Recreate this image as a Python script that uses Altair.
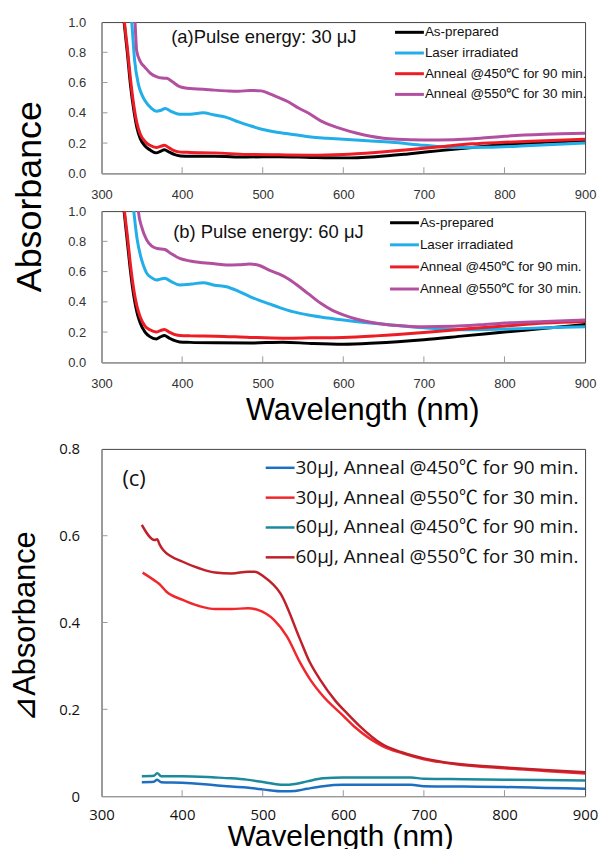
import altair as alt
import pandas as pd

# ---------------- data ----------------
names_ab = ["As-prepared", "Laser irradiated", "Anneal @450℃ for 90 min.", "Anneal @550℃ for 30 min."]
colors_ab = ["#000000", "#22AEE8", "#EE1C25", "#B2509F"]

# panel (a) 30 uJ
a_black_w = [320, 328, 332, 336, 340, 344, 348, 354, 360, 368, 373, 378, 384, 390, 398, 410, 440, 480, 520, 560, 600, 640, 680, 720, 760, 800, 850, 900]
a_black_A = [1.5, 1.0, 0.80, 0.58, 0.42, 0.30, 0.23, 0.18, 0.155, 0.135, 0.145, 0.155, 0.14, 0.125, 0.115, 0.112, 0.112, 0.108, 0.11, 0.105, 0.102, 0.11, 0.128, 0.15, 0.17, 0.19, 0.205, 0.215]
a_red_w = a_black_w
a_red_A = [1.5, 1.02, 0.83, 0.62, 0.45, 0.33, 0.26, 0.21, 0.185, 0.17, 0.178, 0.185, 0.168, 0.15, 0.14, 0.138, 0.135, 0.125, 0.122, 0.12, 0.125, 0.138, 0.155, 0.175, 0.195, 0.205, 0.215, 0.225]
a_blue_w = [330, 337.5, 341, 345.7, 350, 354, 362, 368, 373, 379, 386, 397, 410, 426, 440, 455, 470, 484, 500, 520, 540, 560, 580, 600, 630, 660, 700, 740, 780, 820, 860, 900]
a_blue_A = [1.4, 1.0, 0.75, 0.59, 0.52, 0.48, 0.43, 0.41, 0.415, 0.428, 0.41, 0.39, 0.39, 0.40, 0.385, 0.37, 0.34, 0.315, 0.29, 0.27, 0.255, 0.24, 0.232, 0.225, 0.215, 0.205, 0.185, 0.17, 0.172, 0.18, 0.19, 0.2]
a_mag_w = [335, 341.6, 343.6, 348, 354, 361, 368, 375, 381, 388, 397, 410, 426, 440, 455, 470, 484, 498, 508, 520, 531, 545, 556, 572, 586, 600, 617, 634, 650, 667, 700, 737, 770, 800, 850, 900]
a_mag_A = [1.5, 1.0, 0.81, 0.74, 0.70, 0.66, 0.64, 0.63, 0.628, 0.605, 0.573, 0.56, 0.556, 0.55, 0.545, 0.542, 0.548, 0.545, 0.527, 0.50, 0.475, 0.43, 0.40, 0.347, 0.315, 0.29, 0.265, 0.245, 0.232, 0.225, 0.22, 0.222, 0.232, 0.245, 0.258, 0.265]

# panel (b) 60 uJ
b_black_w = [320, 328, 332, 336, 340, 344, 348, 354, 360, 368, 373, 378, 384, 390, 397, 410, 442, 484, 525, 560, 600, 640, 700, 750, 800, 850, 900]
b_black_A = [1.5, 1.0, 0.80, 0.60, 0.44, 0.33, 0.26, 0.2, 0.17, 0.155, 0.168, 0.177, 0.16, 0.145, 0.135, 0.132, 0.129, 0.128, 0.133, 0.125, 0.12, 0.128, 0.15, 0.175, 0.2, 0.225, 0.25]
b_red_w = b_black_w
b_red_A = [1.5, 1.02, 0.84, 0.64, 0.48, 0.37, 0.30, 0.24, 0.215, 0.2, 0.21, 0.217, 0.2, 0.185, 0.178, 0.175, 0.173, 0.165, 0.16, 0.162, 0.165, 0.175, 0.197, 0.22, 0.24, 0.26, 0.27]
b_blue_w = [332, 340, 344, 348.6, 352, 356, 362, 368, 373, 378.6, 386, 397, 412, 426, 440, 455, 470, 484, 496, 508, 522, 537, 555, 572, 600, 630, 654, 700, 750, 800, 850, 900]
b_blue_A = [1.4, 1.0, 0.82, 0.70, 0.64, 0.59, 0.56, 0.545, 0.55, 0.556, 0.535, 0.512, 0.518, 0.527, 0.51, 0.5, 0.47, 0.435, 0.41, 0.387, 0.36, 0.335, 0.315, 0.3, 0.28, 0.262, 0.25, 0.228, 0.215, 0.22, 0.228, 0.235]
b_mag_w = [340, 345.7, 349.8, 356, 362, 369, 378.6, 386, 397, 410, 426, 440, 455, 470, 484, 496, 508, 520, 531, 543, 556, 572, 586, 600, 617, 634, 650, 667, 700, 737, 770, 800, 850, 900]
b_mag_A = [1.5, 1.0, 0.895, 0.81, 0.77, 0.753, 0.746, 0.72, 0.687, 0.67, 0.659, 0.652, 0.643, 0.645, 0.65, 0.64, 0.61, 0.585, 0.555, 0.51, 0.456, 0.39, 0.345, 0.314, 0.285, 0.265, 0.252, 0.243, 0.235, 0.238, 0.248, 0.26, 0.27, 0.28]

# panel (c) difference spectra
names_c = ["30μJ, Anneal @450℃ for 90 min.", "30μJ, Anneal @550℃ for 30 min.",
           "60μJ, Anneal @450℃ for 90 min.", "60μJ, Anneal @550℃ for 30 min."]
colors_c = ["#1F6FC0", "#F0282D", "#1B8A9C", "#C0202A"]
c_blue_w = [350, 365, 369, 374, 400, 441, 461, 480, 502, 526, 540, 555, 575, 600, 650, 684, 700, 750, 800, 850, 900]
c_blue_A = [0.032, 0.033, 0.038, 0.032, 0.031, 0.025, 0.022, 0.02, 0.015, 0.011, 0.012, 0.017, 0.023, 0.026, 0.026, 0.026, 0.023, 0.022, 0.021, 0.019, 0.017]
c_teal_w = c_blue_w
c_teal_A = [0.046, 0.047, 0.053, 0.046, 0.046, 0.043, 0.041, 0.038, 0.032, 0.026, 0.028, 0.034, 0.041, 0.043, 0.043, 0.043, 0.04, 0.039, 0.038, 0.037, 0.036]
c_red_w = [351, 368, 371, 380.6, 400.8, 421, 441, 461.5, 481.8, 494, 514, 530, 546.6, 558.8, 575, 600, 615, 648, 672.6, 700, 737.5, 800, 850, 900]
c_red_A = [0.515, 0.494, 0.49, 0.471, 0.452, 0.438, 0.431, 0.431, 0.433, 0.429, 0.406, 0.368, 0.307, 0.269, 0.23, 0.185, 0.158, 0.116, 0.099, 0.085, 0.074, 0.064, 0.058, 0.052]
c_dred_w = [350, 366, 369, 372, 376.5, 400.8, 421, 441, 461.5, 481.8, 490, 502, 522, 546.6, 558, 571, 590, 605, 620, 648, 672.6, 700, 737.5, 800, 850, 900]
c_dred_A = [0.625, 0.59, 0.592, 0.58, 0.567, 0.54, 0.525, 0.515, 0.513, 0.517, 0.517, 0.505, 0.467, 0.36, 0.31, 0.269, 0.22, 0.19, 0.162, 0.12, 0.101, 0.087, 0.075, 0.066, 0.06, 0.055]

titles = ["(a)Pulse energy: 30 μJ", "(b) Pulse energy: 60 μJ", "(c)"]
x_ticks = [300, 400, 500, 600, 700, 800, 900]
y_ticks_ab = [0.0, 0.2, 0.4, 0.6, 0.8, 1.0]
y_ticks_c = [0.0, 0.2, 0.4, 0.6, 0.8]


def long_df(pairs, names):
    rows = []
    for (ws, As), n in zip(pairs, names):
        for w, A in zip(ws, As):
            rows.append({"w": w, "A": A, "s": n})
    return pd.DataFrame(rows)


df_a = long_df([(a_black_w, a_black_A), (a_blue_w, a_blue_A), (a_red_w, a_red_A), (a_mag_w, a_mag_A)],
               [names_ab[0], names_ab[1], names_ab[2], names_ab[3]])
df_b = long_df([(b_black_w, b_black_A), (b_blue_w, b_blue_A), (b_red_w, b_red_A), (b_mag_w, b_mag_A)],
               [names_ab[0], names_ab[1], names_ab[2], names_ab[3]])
df_c = long_df([(c_blue_w, c_blue_A), (c_teal_w, c_teal_A), (c_red_w, c_red_A), (c_dred_w, c_dred_A)],
               [names_c[0], names_c[2], names_c[1], names_c[3]])

W = 486
HAB = 152
HC = 349
FA = "Liberation Sans"
FC = "Open Sans, 'Noto Sans CJK JP'"
AX = "#999999"


def panel(df, names, colors, title, tx, ty, H, ydom, yticks, ylab_expr, xtitle, ytitle,
          ytitle_x, ytitle_y, xtitle_x, xtitle_y, xtitle_size, lab_font, lab_size, lab_color,
          ylab_pad, xlab_pad, leg_x, leg_y0, leg_dy, leg_font, leg_size, title_font, title_size, sw):
    cs = alt.Scale(domain=names, range=colors)
    xs = alt.Scale(domain=[300, 900], nice=False, zero=False)
    ys = alt.Scale(domain=ydom, nice=False)
    xax = alt.Axis(values=x_ticks, ticks=False, grid=False, domainColor=AX, domainWidth=1.5,
                   labelFont=lab_font, labelFontSize=lab_size, labelColor=lab_color,
                   labelPadding=xlab_pad, labelFlush=False, title=xtitle, titleFont=FA,
                   titleFontSize=xtitle_size, titleFontWeight="normal", titleColor="#000",
                   titleX=xtitle_x, titleY=xtitle_y, titleBaseline="alphabetic")
    yax = alt.Axis(values=yticks, ticks=False, grid=False, domainColor=AX, domainWidth=1.5,
                   labelFont=lab_font, labelFontSize=lab_size, labelColor=lab_color,
                   labelPadding=ylab_pad, labelExpr=ylab_expr, labelFlush=False,
                   title=ytitle, titleFont=FA, titleFontSize=36 if ytitle == "Absorbance" else 31,
                   titleFontWeight="normal", titleColor="#000", titleX=ytitle_x, titleY=ytitle_y,
                   titleBaseline="middle", titleAngle=270)
    xenc = alt.X("w:Q", scale=xs, axis=xax)
    yenc = alt.Y("A:Q", scale=ys, axis=yax)

    lines = alt.Chart(df).mark_line(strokeWidth=sw, clip=True, interpolate="monotone").encode(
        x=xenc, y=yenc, color=alt.Color("s:N", scale=cs, legend=None))

    inner_y = pd.DataFrame({"A": yticks[1:-1]})
    ytk = alt.Chart(inner_y).mark_rule(color=AX, strokeWidth=1).encode(
        y=yenc, x=alt.value(0), x2=alt.value(6))
    inner_x = pd.DataFrame({"w": x_ticks[1:-1]})
    xtk = alt.Chart(inner_x).mark_rule(color=AX, strokeWidth=1).encode(
        x=xenc, y=alt.value(H), y2=alt.value(H - 6))

    ttl = alt.Chart(pd.DataFrame({"t": [title]})).mark_text(
        align="left", baseline="middle", font=title_font, fontSize=title_size, color="#111").encode(
        x=alt.value(tx), y=alt.value(ty), text="t:N")

    leg = pd.DataFrame({"s": names, "i": list(range(len(names)))})
    lrule = alt.Chart(leg).transform_calculate(ly=f"{leg_y0} + {leg_dy} * datum.i").mark_rule(
        strokeWidth=sw).encode(
        x=alt.value(leg_x), x2=alt.value(leg_x + 29),
        y=alt.Y("ly:Q", scale=None, axis=None),
        color=alt.Color("s:N", scale=cs, legend=None))
    ltext = alt.Chart(leg).transform_calculate(ly=f"{leg_y0} + {leg_dy} * datum.i").mark_text(
        align="left", baseline="middle", font=leg_font, fontSize=leg_size, color="#111").encode(
        x=alt.value(leg_x + 30),
        y=alt.Y("ly:Q", scale=None, axis=None),
        text="s:N")

    return alt.layer(lines, ytk, xtk, ttl, lrule, ltext).properties(width=W, height=H)


fmt_ab = "format(datum.value, '.1f')"
fmt_c = "datum.value == 0 ? '0' : format(datum.value, '.1f')"

pa = panel(df_a, names_ab, colors_ab, titles[0], 70, 15, HAB, [0, 1], y_ticks_ab, fmt_ab,
           None, "Absorbance", -72, 175, 243, 57, 30, FA, 13, "#333", 16, 15,
           295, 10.3, 20.8, FA, 13.5, FA, 18.5, 3)
pb = panel(df_b, names_ab, colors_ab, titles[1], 72, 21, HAB, [0, 1], y_ticks_ab, fmt_ab,
           "Wavelength (nm)", None, -72, 0, 262, 57, 31, FA, 13, "#333", 16, 15,
           290, 11.7, 22.2, FA, 13.5, FA, 18.5, 3)
pc = panel(df_c, names_c, colors_c, titles[2], 21, 30, HC, [0, 0.8], y_ticks_c, fmt_c,
           "Wavelength (nm)", "⊿Absorbance", -76, 178, 240, 50, 30, FC, 15, "#111", 22, 11,
           165, 19, 30, FC, 19, FC, 22, 2.5)

# invisible spacer so that the gap between (b) and (c) is larger than between (a) and (b)
spacer = alt.Chart(pd.DataFrame({"w": [0]})).mark_point(opacity=0).encode(
    x=alt.value(0), y=alt.value(0)).properties(
    width=W, height=11, view=alt.ViewBackground(stroke="transparent"))

chart = alt.vconcat(pa, pb, spacer, pc, spacing=38, bounds="flush").resolve_scale(
    color="independent", x="independent", y="independent").properties(
    padding={"left": 1, "top": 5, "right": -1, "bottom": -6}).configure_view(
    stroke="#444444", strokeWidth=1)

chart.save("out.html", embed_options={"renderer": "svg", "actions": False})
